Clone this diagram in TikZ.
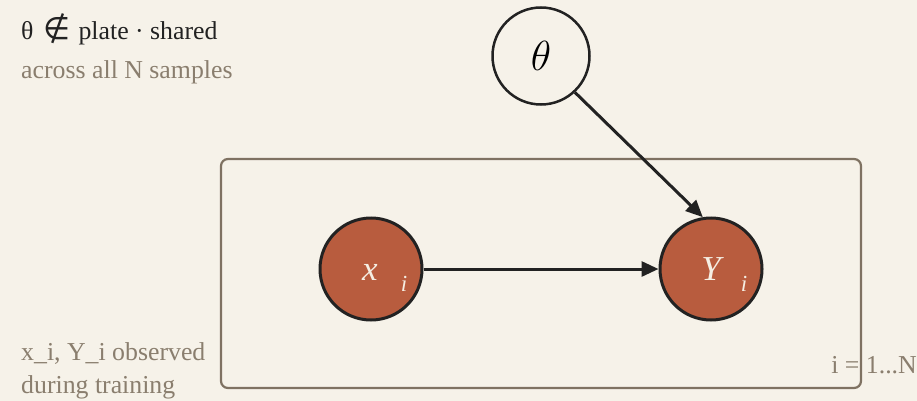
\documentclass[tikz,border=0pt]{standalone}
\usepackage{fix-cm}
\usepackage{fontspec}
\setmainfont{Liberation Serif}
\newfontfamily\symfont{DejaVu Sans}
\usetikzlibrary{arrows.meta}
\definecolor{bg}{HTML}{F6F2E9}
\definecolor{rust}{HTML}{B85C3E}
\definecolor{ink}{HTML}{222222}
\definecolor{platec}{HTML}{7F7262}
\definecolor{muted}{HTML}{8A7E6E}
\definecolor{cream}{HTML}{F5EEE3}
\tikzset{
  varnode/.style={circle, draw=ink, line width=3pt, fill=rust, minimum size=102pt, inner sep=0pt},
  parnode/.style={circle, draw=ink, line width=2.5pt, fill=bg, minimum size=97pt, inner sep=0pt},
  platebox/.style={draw=platec, line width=2.2pt, rounded corners=7pt, minimum width=640pt, minimum height=229pt, inner sep=0pt},
  edge/.style={draw=ink, line width=3pt, -{Triangle[length=17pt,width=15pt]}},
  vlabel/.style={text=cream, font=\fontsize{35}{40}\selectfont\itshape, inner sep=0pt, anchor=base},
  sublabel/.style={text=cream, font=\fontsize{23}{26}\selectfont\itshape, inner sep=0pt, anchor=base},
  note/.style={text=muted, font=\fontsize{25.8}{30}\selectfont, inner sep=0pt, anchor=base west},
  title/.style={text=ink, font=\fontsize{25.8}{30}\selectfont, inner sep=0pt, anchor=base west}
}
\begin{document}
\begin{tikzpicture}[x=1pt,y=-1pt]
\fill[bg] (0,0) rectangle (917,401);
\useasboundingbox (0,0) rectangle (917,401);
\node[note, anchor=base east] (range) at (917,373) {i = 1...N};
\node[platebox] (plate) at (541,273.5) {};
\node[parnode, font=\fontsize{42}{46}\selectfont] (th) at (541,56) {$\theta$};
\node[varnode] (x) at (371,269) {};
\node[varnode] (y) at (711,269) {};
\node[vlabel] (xl) at (370,280) {x};
\node[sublabel] (xs) at (404,291) {i};
\node[vlabel] (yl) at (711,280) {Y};
\node[sublabel] (ys) at (744,291) {i};
\draw[edge] (x.east) -- (y.west);
\draw[edge] (th.-47) -- (y.99);
\node[title] (t1) at (21,40) {θ\hspace{10pt}{\symfont\fontsize{31}{30}\selectfont ∉}\hspace{8pt}plate · shared};
\node[note] (t2) at (21,79) {across all N samples};
\node[note] (b1) at (21,360) {x\_i, Y\_i observed};
\node[note] (b2) at (21,393) {during training};
\end{tikzpicture}
\end{document}
